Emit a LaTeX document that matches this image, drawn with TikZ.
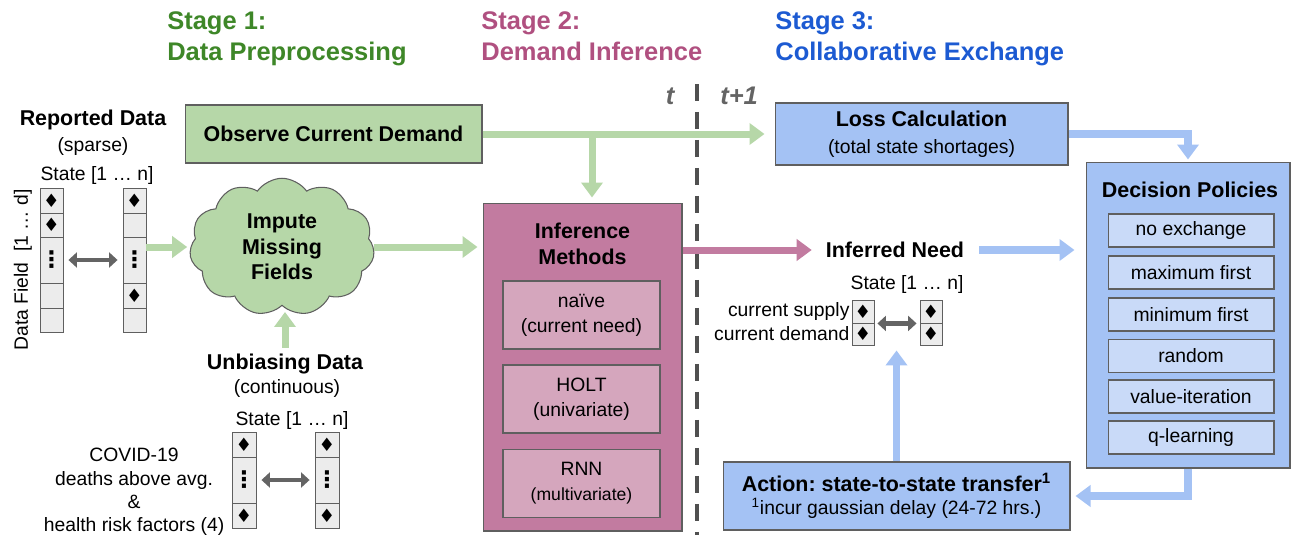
\documentclass[tikz,border=0pt]{standalone}
\usepackage{fontspec}
\setmainfont{Liberation Sans}
\newfontfamily\symfont{DejaVu Sans}
\usetikzlibrary{arrows.meta,shapes.symbols}
\frenchspacing

\definecolor{grnfill}{HTML}{B6D7A8}
\definecolor{grntext}{RGB}{62,135,40}
\definecolor{magfill}{HTML}{C27BA0}
\definecolor{maginner}{HTML}{D5A6BD}
\definecolor{magtext}{RGB}{176,80,128}
\definecolor{blufill}{HTML}{A4C2F4}
\definecolor{bluinner}{HTML}{C9DAF8}
\definecolor{blutext}{RGB}{28,90,210}
\definecolor{edge}{RGB}{95,95,95}
\definecolor{cellfill}{RGB}{236,236,236}
\definecolor{tgray}{RGB}{100,100,100}

\newcommand{\lb}{\fontsize{12.2}{14.5}\selectfont\bfseries}
\newcommand{\sm}{\fontsize{11}{14.2}\selectfont}
\newcommand{\dmd}{{\symfont\fontsize{10.5}{10}\selectfont ♦}}
\newcommand{\vdt}{{\symfont\bfseries\fontsize{13}{13}\selectfont ⋮}}

\begin{document}
\begin{tikzpicture}[x=0.02cm, y=-0.02cm,
    ttl/.style={font=\fontsize{14.5}{17}\selectfont\bfseries, anchor=base west, inner sep=0pt},
    box/.style={draw=edge, line width=0.6pt, inner sep=0pt, align=center, font=\sm},
    cell/.style={draw=edge, fill=cellfill, line width=0.5pt, inner sep=0pt},
    garr/.style={draw=grnfill, line width=0.14cm, -{Triangle[length=0.3cm,width=0.42cm]}},
    marr/.style={draw=magfill, line width=0.14cm, -{Triangle[length=0.3cm,width=0.42cm]}},
    barr/.style={draw=blufill, line width=0.15cm, -{Triangle[length=0.3cm,width=0.42cm]}},
    darr/.style={draw=tgray, line width=0.09cm, {Triangle[length=0.17cm,width=0.3cm]}-{Triangle[length=0.17cm,width=0.3cm]}, shorten <=0.1cm, shorten >=0.1cm}]
    \useasboundingbox (0,0) rectangle (1293,534);

    % stage titles
    \node[ttl, text=grntext] (s1a) at (167,30) {Stage 1:};
    \node[ttl, text=grntext] (s1b) at (167,60) {Data Preprocessing};
    \node[ttl, text=magtext] (s2a) at (481,30) {Stage 2:};
    \node[ttl, text=magtext] (s2b) at (481,60) {Demand Inference};
    \node[ttl, text=blutext] (s3a) at (775,30) {Stage 3:};
    \node[ttl, text=blutext] (s3b) at (775,60) {Collaborative Exchange};

    % time split
    \draw[draw=tgray!80!black, line width=0.08cm, dash pattern=on 0.34cm off 0.22cm] (697,84) -- (697,540);
    \node[font=\fontsize{14.5}{17}\selectfont\bfseries\itshape, text=tgray] (tnow) at (670,96) {t};
    \node[font=\fontsize{14.5}{17}\selectfont\bfseries\itshape, text=tgray, anchor=west, inner sep=0pt] (tnext) at (720,96) {t+1};

    % stage 1
    \node[font=\lb] (rep) at (93,120) {Reported Data};
    \node[font=\sm] (sparse) at (93,146) {(sparse)};
    \node[font=\sm] (st1) at (97,175) {State [1 … n]};
    \node[font=\sm, rotate=90] (dfield) at (23,270) {Data Field\ \ [1 … d]};

    \node[cell, minimum width=0.46cm, minimum height=0.5cm] (la1) at (51.5,200.5) {\dmd};
    \node[cell, minimum width=0.46cm, minimum height=0.48cm] (la2) at (51.5,225) {\dmd};
    \node[cell, minimum width=0.46cm, minimum height=0.92cm] (la3) at (51.5,260) {\vdt};
    \node[cell, minimum width=0.46cm, minimum height=0.5cm] (la4) at (51.5,295.5) {};
    \node[cell, minimum width=0.46cm, minimum height=0.48cm] (la5) at (51.5,320) {};
    \node[cell, minimum width=0.46cm, minimum height=0.5cm] (lb1) at (134.5,200.5) {\dmd};
    \node[cell, minimum width=0.46cm, minimum height=0.48cm] (lb2) at (134.5,225) {};
    \node[cell, minimum width=0.46cm, minimum height=0.92cm] (lb3) at (134.5,260) {\vdt};
    \node[cell, minimum width=0.46cm, minimum height=0.5cm] (lb4) at (134.5,295.5) {\dmd};
    \node[cell, minimum width=0.46cm, minimum height=0.48cm] (lb5) at (134.5,320) {};
    \draw[darr] (la3.east) -- (lb3.west);

    \node[box, fill=grnfill, minimum width=5.94cm, minimum height=1.16cm] (obs) at (333.5,134) {\lb Observe Current Demand};
    \node[cloud, cloud puffs=11, cloud puff arc=110, aspect=1.4, draw=edge, line width=0.6pt, fill=grnfill,
          minimum width=3.7cm, minimum height=2.75cm, inner sep=0pt, align=center, font=\lb] (imp) at (282,247) {Impute\\Missing\\Fields};

    \node[font=\lb] (unb) at (285,364) {Unbiasing Data};
    \node[font=\sm] (cont) at (287,388) {(continuous)};
    \node[font=\sm] (st2) at (292,420) {State [1 … n]};
    \node[font=\fontsize{11}{13.2}\selectfont, align=center] (covid) at (134,492) {COVID-19\\deaths above avg.\\\&\\health risk factors (4)};

    \node[cell, minimum width=0.48cm, minimum height=0.5cm] (ua1) at (244,444.5) {\dmd};
    \node[cell, minimum width=0.48cm, minimum height=0.92cm] (ua2) at (244,480) {\vdt};
    \node[cell, minimum width=0.48cm, minimum height=0.5cm] (ua3) at (244,515.5) {\dmd};
    \node[cell, minimum width=0.48cm, minimum height=0.5cm] (ub1) at (327,444.5) {\dmd};
    \node[cell, minimum width=0.48cm, minimum height=0.92cm] (ub2) at (327,480) {\vdt};
    \node[cell, minimum width=0.48cm, minimum height=0.5cm] (ub3) at (327,515.5) {\dmd};
    \draw[darr] (ua2.east) -- (ub2.west);

    % stage 2
    \node[box, fill=magfill, minimum width=3.98cm, minimum height=6.56cm] (inf) at (582.5,367) {};
    \node[font=\lb, align=center] (inft) at (582.5,244) {Inference\\Methods};
    \node[box, fill=maginner, minimum width=3.14cm, minimum height=1.36cm] (naive) at (581.5,315) {naïve\\(current need)};
    \node[box, fill=maginner, minimum width=3.14cm, minimum height=1.36cm] (holt) at (581.5,399) {HOLT\\(univariate)};
    \node[box, fill=maginner, minimum width=3.14cm, minimum height=1.36cm] (rnn) at (581.5,483.5) {RNN\\{\fontsize{10}{12}\selectfont(multivariate)}};

    % stage 3
    \node[box, fill=blufill, minimum width=5.86cm, minimum height=1.24cm] (loss) at (921.5,134) {{\lb Loss Calculation}\\[1pt](total state shortages)};
    \node[font=\lb] (need) at (895,250) {Inferred Need};
    \node[font=\sm] (st3) at (907,284) {State [1 … n]};
    \node[cell, minimum width=0.44cm, minimum height=0.46cm] (sa1) at (863,311.5) {\dmd};
    \node[cell, minimum width=0.44cm, minimum height=0.44cm] (sa2) at (863,334) {\dmd};
    \node[cell, minimum width=0.44cm, minimum height=0.46cm] (sb1) at (931,311.5) {\dmd};
    \node[cell, minimum width=0.44cm, minimum height=0.44cm] (sb2) at (931,334) {\dmd};
    \node[font=\sm, anchor=east, inner sep=1pt] (sup) at (sa1.west) {current supply};
    \node[font=\sm, anchor=east, inner sep=1pt] (dem) at (sa2.west) {current demand};
    \draw[darr, shorten <=0.06cm, shorten >=0.06cm] (sa1.south east) -- (sb1.south west);

    \node[box, fill=blufill, minimum width=4.08cm, minimum height=6.12cm] (dec) at (1188,315) {};
    \node[font=\lb] (dect) at (1190,190) {Decision Policies};
    \node[box, fill=bluinner, minimum width=3.32cm, minimum height=0.66cm] (p1) at (1191,230.5) {no exchange};
    \node[box, fill=bluinner, minimum width=3.32cm, minimum height=0.66cm] (p2) at (1191,272.5) {maximum first};
    \node[box, fill=bluinner, minimum width=3.32cm, minimum height=0.66cm] (p3) at (1191,314.5) {minimum first};
    \node[box, fill=bluinner, minimum width=3.32cm, minimum height=0.66cm] (p4) at (1191,356) {random};
    \node[box, fill=bluinner, minimum width=3.32cm, minimum height=0.66cm] (p5) at (1191,396.5) {value-iteration};
    \node[box, fill=bluinner, minimum width=3.32cm, minimum height=0.66cm] (p6) at (1191,437.5) {q-learning};

    \node[box, fill=blufill, minimum width=6.94cm, minimum height=1.36cm] (act) at (896.5,496) {{\lb Action: state-to-state transfer\textsuperscript{1}}\\[-1pt]\textsuperscript{1}incur gaussian delay (24-72 hrs.)};

    % arrows
    \coordinate (brn) at (592,134);
    \draw[garr, shorten >=0.2cm] (obs.east) -- (loss.west);
    \draw[garr, shorten >=0.1cm] (brn) -- (brn |- inf.north);
    \draw[garr, shorten >=0.06cm] (lb3.east |- imp.west) -- (imp.west);
    \draw[garr, shorten >=0.1cm] (imp.east) -- (imp.east -| inf.west);
    \draw[garr, shorten >=0.12cm] (unb.north) -- (unb.north |- imp.south);
    \draw[marr, shorten >=0.16cm] (need.west -| inf.east) -- (need.west);
    \draw[barr, shorten <=0.18cm, shorten >=0.22cm] (need.east) -- (need.east -| dec.west);
    \draw[barr, shorten >=0.04cm] (loss.east) -| (dec.north);
    \draw[barr, shorten >=0.1cm] (dec.south) |- (act.east);
    \draw[barr, shorten >=0.1cm] (act.north) -- (act.north |- sa2.south);
\end{tikzpicture}
\end{document}
